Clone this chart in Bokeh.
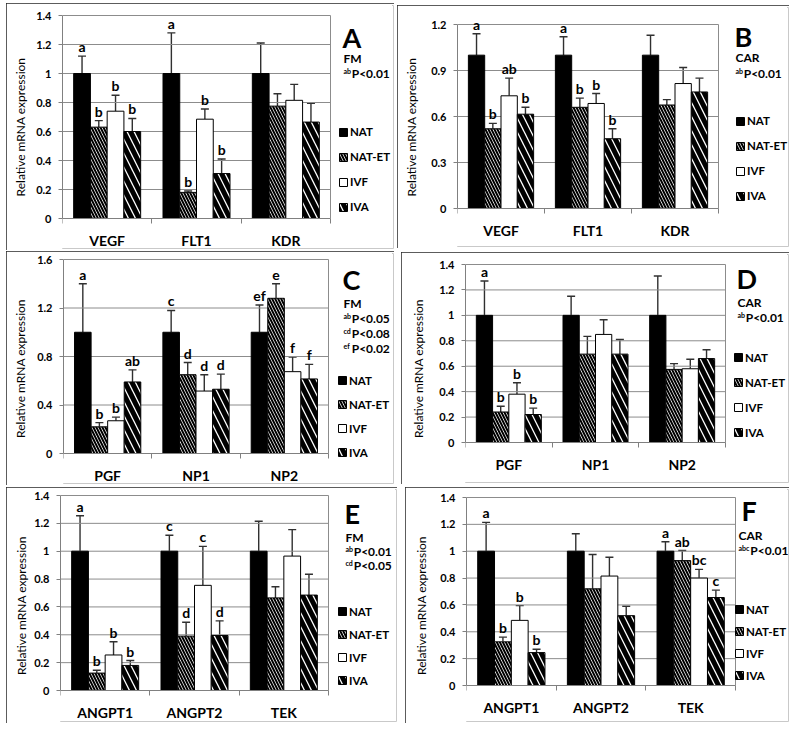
from bokeh.plotting import figure
from bokeh.models import (ColumnDataSource, Range1d, FixedTicker, Whisker, TeeHead,
                          LabelSet, Label, Legend, LegendItem)
from bokeh.layouts import row, column
from bokeh.core.properties import value
from bokeh.embed import file_html
from bokeh.resources import INLINE

FONT = "Lato"
GROUPS = ["NAT", "NAT-ET", "IVF", "IVA"]

# ---------------- Panel A (FM) ----------------
A_GENES = ["VEGF", "FLT1", "KDR"]
A_NAT = [1.0, 1.0, 1.0]
A_NATET = [0.63, 0.18, 0.775]
A_IVF = [0.74, 0.685, 0.815]
A_IVA = [0.60, 0.31, 0.665]
A_NAT_HI = [1.12, 1.28, 1.21]
A_NATET_HI = [0.675, 0.19, 0.86]
A_IVF_HI = [0.85, 0.755, 0.925]
A_IVA_HI = [0.69, 0.41, 0.795]
A_LET_NAT = ["a", "a", ""]
A_LET_NATET = ["b", "b", ""]
A_LET_IVF = ["b", "b", ""]
A_LET_IVA = ["b", "b", ""]
A_YTICKS = [0, 0.2, 0.4, 0.6, 0.8, 1.0, 1.2, 1.4]
A_YLABELS = ["0", "0.2", "0.4", "0.6", "0.8", "1", "1.2", "1.4"]
A_NOTES = ["FM", ("ab", "P<0.01")]

# ---------------- Panel B (CAR) ----------------
B_GENES = ["VEGF", "FLT1", "KDR"]
B_NAT = [1.0, 1.0, 1.0]
B_NATET = [0.52, 0.66, 0.675]
B_IVF = [0.735, 0.685, 0.815]
B_IVA = [0.615, 0.455, 0.76]
B_NAT_HI = [1.14, 1.12, 1.13]
B_NATET_HI = [0.555, 0.72, 0.71]
B_IVF_HI = [0.85, 0.75, 0.92]
B_IVA_HI = [0.66, 0.52, 0.85]
B_LET_NAT = ["a", "a", ""]
B_LET_NATET = ["b", "b", ""]
B_LET_IVF = ["ab", "b", ""]
B_LET_IVA = ["b", "b", ""]
B_YTICKS = [0, 0.3, 0.6, 0.9, 1.2]
B_YLABELS = ["0", "0.3", "0.6", "0.9", "1.2"]
B_NOTES = ["CAR", ("ab", "P<0.01")]

# ---------------- Panel C (FM) ----------------
C_GENES = ["PGF", "NP1", "NP2"]
C_NAT = [1.0, 1.0, 1.0]
C_NATET = [0.22, 0.65, 1.28]
C_IVF = [0.27, 0.515, 0.675]
C_IVA = [0.59, 0.53, 0.615]
C_NAT_HI = [1.40, 1.18, 1.225]
C_NATET_HI = [0.255, 0.75, 1.40]
C_IVF_HI = [0.30, 0.65, 0.795]
C_IVA_HI = [0.69, 0.655, 0.735]
C_LET_NAT = ["a", "c", "ef"]
C_LET_NATET = ["b", "d", "e"]
C_LET_IVF = ["b", "d", "f"]
C_LET_IVA = ["ab", "d", "f"]
C_YTICKS = [0, 0.4, 0.8, 1.2, 1.6]
C_YLABELS = ["0", "0.4", "0.8", "1.2", "1.6"]
C_NOTES = ["FM", ("ab", "P<0.05"), ("cd", "P<0.08"), ("ef", "P<0.02")]

# ---------------- Panel D (CAR) ----------------
D_GENES = ["PGF", "NP1", "NP2"]
D_NAT = [1.0, 1.0, 1.0]
D_NATET = [0.24, 0.695, 0.575]
D_IVF = [0.38, 0.85, 0.58]
D_IVA = [0.22, 0.695, 0.66]
D_NAT_HI = [1.27, 1.15, 1.31]
D_NATET_HI = [0.285, 0.835, 0.62]
D_IVF_HI = [0.47, 0.965, 0.655]
D_IVA_HI = [0.27, 0.81, 0.73]
D_LET_NAT = ["a", "", ""]
D_LET_NATET = ["b", "", ""]
D_LET_IVF = ["b", "", ""]
D_LET_IVA = ["b", "", ""]
D_YTICKS = [0, 0.2, 0.4, 0.6, 0.8, 1.0, 1.2, 1.4]
D_YLABELS = ["0", "0.2", "0.4", "0.6", "0.8", "1", "1.2", "1.4"]
D_NOTES = ["CAR", ("ab", "P<0.01")]

# ---------------- Panel E (FM) ----------------
E_GENES = ["ANGPT1", "ANGPT2", "TEK"]
E_NAT = [1.0, 1.0, 1.0]
E_NATET = [0.125, 0.39, 0.665]
E_IVF = [0.255, 0.755, 0.965]
E_IVA = [0.18, 0.395, 0.685]
E_NAT_HI = [1.255, 1.115, 1.215]
E_NATET_HI = [0.145, 0.49, 0.745]
E_IVF_HI = [0.35, 1.035, 1.155]
E_IVA_HI = [0.215, 0.50, 0.835]
E_LET_NAT = ["a", "c", ""]
E_LET_NATET = ["b", "d", ""]
E_LET_IVF = ["b", "c", ""]
E_LET_IVA = ["b", "d", ""]
E_YTICKS = [0, 0.2, 0.4, 0.6, 0.8, 1.0, 1.2, 1.4]
E_YLABELS = ["0", "0.2", "0.4", "0.6", "0.8", "1", "1.2", "1.4"]
E_NOTES = ["FM", ("ab", "P<0.01"), ("cd", "P<0.05")]

# ---------------- Panel F (CAR) ----------------
F_GENES = ["ANGPT1", "ANGPT2", "TEK"]
F_NAT = [1.0, 1.0, 1.0]
F_NATET = [0.325, 0.72, 0.93]
F_IVF = [0.485, 0.815, 0.80]
F_IVA = [0.245, 0.52, 0.655]
F_NAT_HI = [1.215, 1.13, 1.07]
F_NATET_HI = [0.36, 0.975, 1.005]
F_IVF_HI = [0.595, 0.955, 0.865]
F_IVA_HI = [0.27, 0.59, 0.71]
F_LET_NAT = ["a", "", "a"]
F_LET_NATET = ["b", "", "ab"]
F_LET_IVF = ["b", "", "bc"]
F_LET_IVA = ["b", "", "c"]
F_YTICKS = [0, 0.2, 0.4, 0.6, 0.8, 1.0, 1.2, 1.4]
F_YLABELS = ["0", "0.2", "0.4", "0.6", "0.8", "1", "1.2", "1.4"]
F_NOTES = ["CAR", ("abc", "P<0.01")]

# bar styles per group
STYLE = {
    "NAT": dict(fill_color="black", hatch_pattern=None),
    "NAT-ET": dict(fill_color="white", hatch_pattern="left_diagonal_line", hatch_scale=6, hatch_weight=2),
    "IVF": dict(fill_color="white", hatch_pattern=None),
    "IVA": dict(fill_color="white", hatch_pattern="left_diagonal_line", hatch_scale=14, hatch_weight=5),
}
BAR_W = 0.1875
OFFSETS = [-1.5 * BAR_W, -0.5 * BAR_W, 0.5 * BAR_W, 1.5 * BAR_W]
GRID = "#8c8c8c"
PAD = 2     # frame inset from the canvas edges (top, bottom)
PAD_R = 1   # frame inset from the right canvas edge


def build(tag, genes, means, his, letters, yticks, ylabels, notes, geo):
    ox, oy, w, h = geo["canvas"]
    L, R, T, B = geo["frame"]
    n = len(genes)
    ymax = yticks[-1]
    # the frame fills the panel (except the y-axis strip) so that side texts,
    # legend and category labels are drawn inside it; axes stay bounded to the data area
    x_end = n + (ox + w - PAD_R - R) / (R - L) * n
    y_end = ymax + (T - (oy + PAD)) / (B - T) * ymax
    y_start = -((oy + h - PAD) - B) / (B - T) * ymax
    p = figure(width=w, height=h, x_range=Range1d(0, x_end), y_range=Range1d(y_start, y_end),
               output_backend="svg", toolbar_location=None,
               min_border_left=L - ox, min_border_right=PAD_R,
               min_border_top=PAD, min_border_bottom=PAD)
    p.margin = geo["margin"]
    p.styles = {"outline": "2px solid #262626", "outline-offset": "-2px"}
    p.outline_line_color = None
    p.background_fill_color = "white"
    p.border_fill_color = "white"

    def dx(px):
        return (px - L) / (R - L) * n

    def dy(py):
        return (B - py) / (B - T) * ymax

    # x axis (categories) fixed at y = 0
    xt = [i + 0.5 for i in range(n)]
    p.xaxis.fixed_location = 0
    p.xaxis.ticker = FixedTicker(ticks=xt, minor_ticks=list(range(n + 1)))
    p.xaxis.bounds = (0, n)
    p.xaxis.major_label_overrides = {t: g for t, g in zip(xt, genes)}
    p.xaxis.axis_label = None
    p.xaxis.major_tick_line_color = None
    p.xaxis.major_tick_out = 0
    p.xaxis.major_tick_in = 0
    p.xaxis.minor_tick_out = 5
    p.xaxis.minor_tick_in = 0
    p.xaxis.minor_tick_line_color = "#808080"
    p.xaxis.axis_line_color = "#808080"
    p.xaxis.major_label_standoff = 8
    p.xaxis.major_label_text_font = FONT
    p.xaxis.major_label_text_font_style = "bold"
    p.xaxis.major_label_text_font_size = "14px"
    p.xaxis.major_label_text_color = "black"

    p.yaxis.ticker = FixedTicker(ticks=yticks, minor_ticks=[])
    p.yaxis.bounds = (0, ymax)
    p.yaxis.major_label_overrides = {float(t): s for t, s in zip(yticks, ylabels)}
    p.yaxis.major_tick_out = 4
    p.yaxis.major_tick_in = 0
    p.yaxis.major_tick_line_color = "#808080"
    p.yaxis.axis_line_color = "#808080"
    p.yaxis.major_label_standoff = 7
    p.yaxis.major_label_text_font = FONT
    p.yaxis.major_label_text_font_style = "bold"
    p.yaxis.major_label_text_font_size = "11px"
    p.yaxis.major_label_text_color = "black"
    p.yaxis.axis_label = "Relative mRNA expression"
    p.yaxis.axis_label_text_font = FONT
    p.yaxis.axis_label_text_font_style = "normal"
    p.yaxis.axis_label_text_font_size = "12px"
    p.yaxis.axis_label_text_color = "black"
    p.yaxis.axis_label_standoff = geo["ylab_standoff"]

    p.xgrid.visible = False
    p.ygrid.visible = False
    # horizontal grid lines over the data area, and the right edge of the plot area
    gy = [t for t in yticks if t > 0]
    p.segment(x0=[0] * len(gy), x1=[n] * len(gy), y0=gy, y1=gy, line_color=GRID, line_width=1)
    p.segment(x0=[n], x1=[n], y0=[0], y1=[ymax], line_color=GRID, line_width=1)

    renderers = []
    for g, off, m, hi, let in zip(GROUPS, OFFSETS, means, his, letters):
        xs = [i + 0.5 + off for i in range(n)]
        src = ColumnDataSource(dict(x=xs, top=m, hi=hi))
        r = p.vbar(x="x", top="top", width=BAR_W, source=src, line_color="black",
                   line_width=1, hatch_color="black", **STYLE[g])
        renderers.append(r)
        p.add_layout(Whisker(base="x", lower="top", upper="hi", source=src,
                             line_color="#303030", line_width=1.4, lower_head=None,
                             upper_head=TeeHead(size=8, line_color="#303030", line_width=1.4)))
        lx = [x for x, t in zip(xs, let) if t]
        ly = [y for y, t in zip(hi, let) if t]
        lt = [t for t in let if t]
        if lt:
            lsrc = ColumnDataSource(dict(x=lx, y=ly, t=lt))
            p.add_layout(LabelSet(x="x", y="y", text="t", source=lsrc, text_align="center",
                                  text_baseline="alphabetic", y_offset=4,
                                  text_font=value(FONT), text_font_style="bold",
                                  text_font_size="14px", text_color="black"))

    # legend (location is measured from the frame's bottom-left corner)
    lg = geo["legend"]
    pitch = lg["pitch"]
    last = lg["y0"] + 3 * pitch
    frame_bottom = oy + h - PAD
    leg = Legend(items=[LegendItem(label=value(g), renderers=[r]) for g, r in zip(GROUPS, renderers)],
                 location=(lg["x"] - L, frame_bottom - (last + 7)),
                 glyph_width=10, glyph_height=10, label_height=10, label_width=10,
                 spacing=int(round(pitch - 14)), padding=0, margin=0, label_standoff=2,
                 border_line_color=None, background_fill_alpha=0,
                 label_text_font=FONT, label_text_font_style="bold",
                 label_text_font_size="11.5px", label_text_color="black")
    p.add_layout(leg)

    # panel tag and notes
    tx, ty = geo["tag"]
    p.add_layout(Label(x=dx(tx), y=dy(ty), text=tag, text_baseline="middle", text_align="left",
                       text_font=FONT, text_font_style="bold", text_font_size="27px",
                       text_color="black"))
    nx, ny, npitch = geo["notes"]
    for k, item in enumerate(notes):
        yy = ny + k * npitch
        if isinstance(item, tuple):
            sup, rest = item
            p.add_layout(Label(x=dx(nx), y=dy(yy - 3), text=sup, text_baseline="middle",
                               text_font=FONT, text_font_style="bold", text_font_size="7px",
                               text_color="black"))
            p.add_layout(Label(x=dx(nx + len(sup) * 3.6 + 1), y=dy(yy), text=rest,
                               text_baseline="middle", text_font=FONT, text_font_style="bold",
                               text_font_size="12px", text_color="black"))
        else:
            p.add_layout(Label(x=dx(nx), y=dy(yy), text=item, text_baseline="middle",
                               text_font=FONT, text_font_style="bold", text_font_size="12px",
                               text_color="black"))
    return p


# canvas = (left, top, width, height) of each panel box on the page; frame = (L, R, T, B)
# of the data area (x from 0 to n categories, y from 0 to the top tick)
GEO = {
    "A": dict(canvas=(6, 3, 388, 247), margin=(3, 0, 0, 6), frame=(62, 330, 15, 218), ylab_standoff=5,
              legend=dict(x=338, y0=128, pitch=26), tag=(342, 37), notes=(343, 58, 15)),
    "B": dict(canvas=(397, 5, 392, 243), margin=(5, 0, 0, 3), frame=(457, 718, 24, 208), ylab_standoff=9,
              legend=dict(x=735, y0=117, pitch=26), tag=(734, 36), notes=(735, 57, 16)),
    "C": dict(canvas=(6, 251, 388, 234), margin=(1, 0, 0, 6), frame=(63, 328, 259, 453), ylab_standoff=6,
              legend=dict(x=337, y0=376, pitch=25.3), tag=(342, 279), notes=(343, 303, 15)),
    "D": dict(canvas=(401, 252, 388, 232), margin=(2, 0, 0, 7), frame=(465, 725, 264, 442), ylab_standoff=10,
              legend=dict(x=733, y0=352, pitch=26.5), tag=(736, 278), notes=(737, 302, 15)),
    "E": dict(canvas=(6, 487, 391, 236), margin=(2, 0, 0, 6), frame=(60, 328, 495, 690), ylab_standoff=2,
              legend=dict(x=337, y0=607, pitch=24.3), tag=(344, 513), notes=(345, 537, 14)),
    "F": dict(canvas=(405, 487, 384, 236), margin=(2, 0, 0, 8), frame=(466, 735, 497, 685), ylab_standoff=8,
              legend=dict(x=734, y0=605, pitch=23.3), tag=(741, 510), notes=(738, 535, 15)),
}

pA = build("A", A_GENES, [A_NAT, A_NATET, A_IVF, A_IVA], [A_NAT_HI, A_NATET_HI, A_IVF_HI, A_IVA_HI],
           [A_LET_NAT, A_LET_NATET, A_LET_IVF, A_LET_IVA], A_YTICKS, A_YLABELS, A_NOTES, GEO["A"])
pB = build("B", B_GENES, [B_NAT, B_NATET, B_IVF, B_IVA], [B_NAT_HI, B_NATET_HI, B_IVF_HI, B_IVA_HI],
           [B_LET_NAT, B_LET_NATET, B_LET_IVF, B_LET_IVA], B_YTICKS, B_YLABELS, B_NOTES, GEO["B"])
pC = build("C", C_GENES, [C_NAT, C_NATET, C_IVF, C_IVA], [C_NAT_HI, C_NATET_HI, C_IVF_HI, C_IVA_HI],
           [C_LET_NAT, C_LET_NATET, C_LET_IVF, C_LET_IVA], C_YTICKS, C_YLABELS, C_NOTES, GEO["C"])
pD = build("D", D_GENES, [D_NAT, D_NATET, D_IVF, D_IVA], [D_NAT_HI, D_NATET_HI, D_IVF_HI, D_IVA_HI],
           [D_LET_NAT, D_LET_NATET, D_LET_IVF, D_LET_IVA], D_YTICKS, D_YLABELS, D_NOTES, GEO["D"])
pE = build("E", E_GENES, [E_NAT, E_NATET, E_IVF, E_IVA], [E_NAT_HI, E_NATET_HI, E_IVF_HI, E_IVA_HI],
           [E_LET_NAT, E_LET_NATET, E_LET_IVF, E_LET_IVA], E_YTICKS, E_YLABELS, E_NOTES, GEO["E"])
pF = build("F", F_GENES, [F_NAT, F_NATET, F_IVF, F_IVA], [F_NAT_HI, F_NATET_HI, F_IVF_HI, F_IVA_HI],
           [F_LET_NAT, F_LET_NATET, F_LET_IVF, F_LET_IVA], F_YTICKS, F_YLABELS, F_NOTES, GEO["F"])

layout = column(row(pA, pB, spacing=0), row(pC, pD, spacing=0), row(pE, pF, spacing=0), spacing=0)
open("out.html", "w").write(file_html(layout, INLINE))
